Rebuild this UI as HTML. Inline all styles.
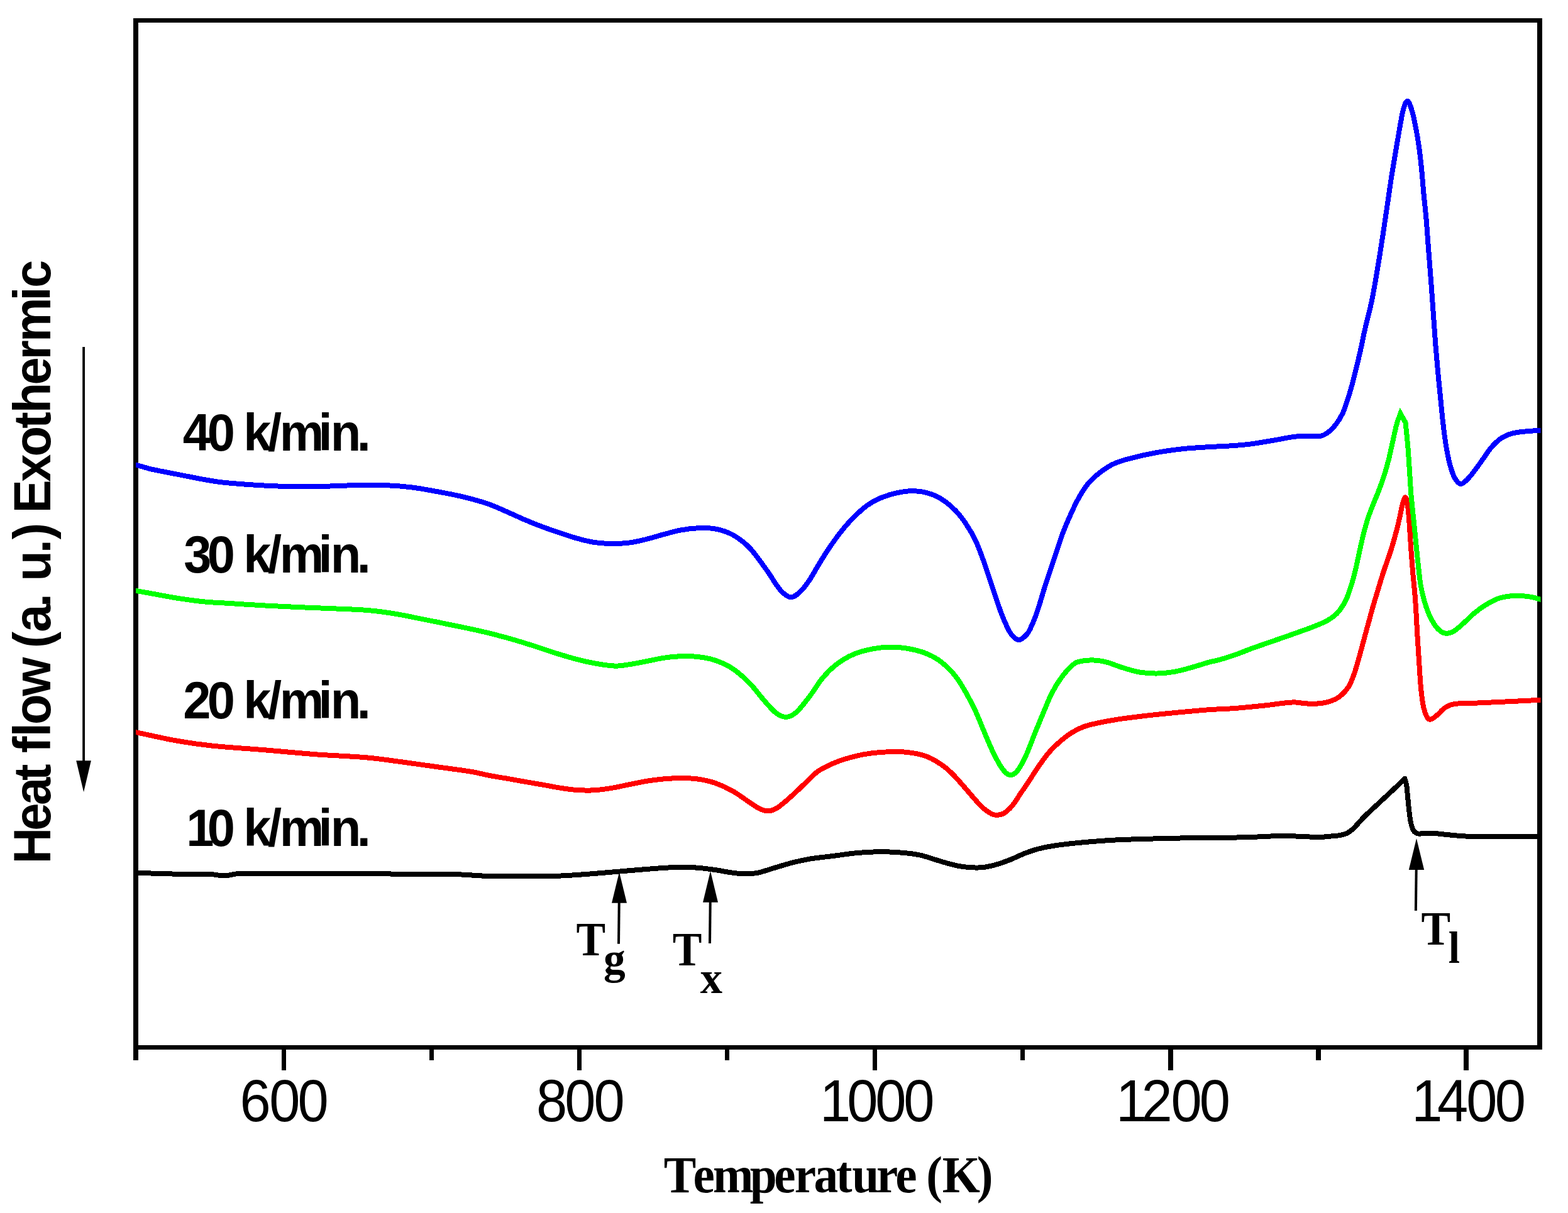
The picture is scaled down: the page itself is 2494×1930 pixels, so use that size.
<!DOCTYPE html>
<html lang="en">
<head>
<meta charset="utf-8">
<title>DSC heat flow curves</title>
<style>
html,body{margin:0;padding:0;background:#fff;}
body{width:2494px;height:1930px;overflow:hidden;}
svg{display:block;}
text{fill:#000;white-space:pre;}
</style>
</head>
<body>
<svg width="2494" height="1930" viewBox="0 0 2494 1930" role="img" aria-label="DSC heat flow curves at 10, 20, 30 and 40 K/min">
<rect width="2494" height="1930" fill="#fff"/>
<g fill="#000" shape-rendering="crispEdges">
<rect x="212" y="29" width="8" height="1658"/>
<rect x="2445" y="29" width="8" height="1641"/>
<rect x="212" y="29" width="2241" height="7"/>
<rect x="212" y="1663" width="2241" height="7"/>
<rect x="448" y="1666" width="7" height="37"/>
<rect x="918" y="1666" width="7" height="37"/>
<rect x="1388" y="1666" width="7" height="37"/>
<rect x="1858" y="1666" width="8" height="37"/>
<rect x="2328" y="1666" width="8" height="37"/>
<rect x="683" y="1666" width="7" height="21"/>
<rect x="1153" y="1666" width="7" height="21"/>
<rect x="1623" y="1666" width="7" height="21"/>
<rect x="2093" y="1666" width="8" height="21"/>
</g>
<clipPath id="plot"><rect x="216" y="36" width="2234.4" height="1627"/></clipPath>
<g fill="none" stroke-linejoin="round" stroke-linecap="butt" stroke-miterlimit="8" shape-rendering="crispEdges" clip-path="url(#plot)">
<path d="M213.0 1388.7C214.2 1388.7 215.3 1388.8 216.5 1388.8C238.5 1389.4 260.4 1390.3 282.4 1390.7C299.9 1391.0 317.5 1390.4 335.0 1391.0C342.3 1391.3 349.7 1393.6 357.0 1393.4C364.7 1393.2 372.3 1390.2 380.0 1390.0C411.6 1389.1 443.1 1390.2 474.7 1390.2C511.3 1390.2 548.0 1389.7 584.6 1389.9C612.1 1390.1 639.5 1391.1 667.0 1391.3C685.3 1391.4 703.7 1390.5 722.0 1391.0C741.3 1391.5 760.7 1393.6 780.0 1394.1C798.3 1394.6 816.7 1394.2 835.0 1394.1C853.3 1394.0 871.6 1394.3 889.9 1393.6C908.2 1392.9 926.5 1391.4 944.8 1390.0C963.1 1388.6 981.5 1386.8 999.8 1385.3C1018.1 1383.8 1036.4 1382.2 1054.7 1381.0C1063.9 1380.4 1073.0 1379.8 1082.2 1379.8C1091.4 1379.8 1100.5 1380.0 1109.7 1380.7C1118.8 1381.4 1128.0 1382.7 1137.1 1384.0C1146.3 1385.3 1155.4 1387.4 1164.6 1388.6C1171.9 1389.6 1179.3 1390.5 1186.6 1390.5C1193.0 1390.5 1199.4 1390.0 1205.8 1388.6C1215.0 1386.6 1224.1 1383.1 1233.3 1380.4C1242.5 1377.7 1251.6 1374.8 1260.8 1372.5C1269.9 1370.2 1279.1 1368.1 1288.2 1366.6C1302.0 1364.4 1315.7 1363.2 1329.5 1361.4C1339.7 1360.1 1349.8 1358.3 1360.0 1357.4C1373.7 1356.2 1387.5 1355.3 1401.2 1355.2C1413.1 1355.2 1425.0 1355.9 1436.9 1356.9C1446.1 1357.7 1455.2 1358.8 1464.4 1360.8C1473.6 1362.8 1482.7 1366.4 1491.9 1369.1C1501.0 1371.8 1510.2 1374.8 1519.3 1376.8C1526.6 1378.4 1534.0 1379.5 1541.3 1380.1C1548.6 1380.6 1556.0 1380.9 1563.3 1380.1C1570.6 1379.3 1578.0 1377.5 1585.3 1375.4C1592.6 1373.3 1600.0 1370.6 1607.3 1367.7C1614.6 1364.8 1621.9 1360.9 1629.2 1358.1C1636.5 1355.3 1643.9 1352.6 1651.2 1350.7C1659.4 1348.5 1667.7 1346.9 1675.9 1345.7C1689.6 1343.6 1703.4 1342.1 1717.1 1340.8C1735.4 1339.1 1753.8 1337.6 1772.1 1336.6C1790.4 1335.6 1808.7 1335.2 1827.0 1334.7C1845.3 1334.2 1863.7 1333.7 1882.0 1333.4C1901.3 1333.1 1920.7 1333.3 1940.0 1333.0C1956.9 1332.8 1973.8 1332.4 1990.7 1331.9C2007.6 1331.4 2024.6 1330.0 2041.5 1329.9C2054.2 1329.8 2066.8 1331.0 2079.5 1331.4C2086.3 1331.6 2093.2 1332.0 2100.0 1331.9C2105.0 1331.8 2110.1 1331.2 2115.1 1330.7C2120.1 1330.2 2125.2 1330.0 2130.2 1329.2C2133.5 1328.7 2136.9 1328.0 2140.2 1326.7C2142.6 1325.8 2144.9 1324.4 2147.3 1322.7C2149.6 1321.0 2152.0 1318.9 2154.3 1316.6C2157.0 1313.9 2159.7 1310.6 2162.4 1307.6C2165.1 1304.7 2167.7 1301.6 2170.4 1299.0C2175.4 1294.1 2180.5 1289.6 2185.5 1284.9C2190.5 1280.2 2195.6 1275.6 2200.6 1270.9C2205.6 1266.2 2210.7 1261.6 2215.7 1256.8C2220.1 1252.7 2224.4 1248.4 2228.8 1244.2C2230.6 1242.4 2232.5 1240.5 2234.3 1238.7C2235.3 1242.5 2236.3 1243.9 2237.3 1250.2C2238.0 1254.4 2238.6 1263.7 2239.3 1270.4C2240.0 1277.1 2240.6 1285.0 2241.3 1290.5C2242.2 1297.7 2243.0 1304.5 2243.9 1308.6C2245.1 1314.2 2246.2 1317.3 2247.4 1319.7C2248.9 1322.8 2250.4 1324.1 2251.9 1325.2C2253.6 1326.4 2255.2 1326.6 2256.9 1326.7C2259.9 1326.8 2263.0 1325.8 2266.0 1325.7C2271.0 1325.5 2276.1 1325.6 2281.1 1325.9C2287.4 1326.3 2293.7 1327.3 2300.0 1327.9C2311.1 1328.9 2322.1 1330.2 2333.2 1330.6C2354.3 1331.3 2375.5 1331.1 2396.6 1331.2C2413.5 1331.3 2430.5 1331.2 2447.4 1331.2C2449.3 1331.2 2451.1 1331.2 2453.0 1331.2" stroke="#000000" stroke-width="8.0"/>
<path d="M213.0 1164.5C214.2 1164.7 215.3 1165.0 216.5 1165.2C238.5 1169.8 260.4 1175.0 282.4 1178.9C300.7 1182.1 319.1 1184.7 337.4 1186.6C364.9 1189.5 392.3 1190.9 419.8 1193.2C447.3 1195.5 474.7 1198.2 502.2 1200.3C529.7 1202.3 557.1 1203.1 584.6 1205.5C602.9 1207.1 621.3 1210.0 639.6 1212.4C657.9 1214.8 676.2 1217.5 694.5 1220.1C712.8 1222.7 731.2 1224.8 749.5 1227.8C759.7 1229.5 769.8 1232.3 780.0 1234.2C789.2 1236.0 798.3 1237.3 807.5 1238.9C816.7 1240.5 825.8 1242.2 835.0 1243.8C844.1 1245.4 853.3 1246.9 862.4 1248.5C871.6 1250.1 880.7 1252.1 889.9 1253.5C899.1 1254.9 908.2 1256.4 917.4 1257.0C926.5 1257.6 935.7 1257.8 944.8 1257.3C954.0 1256.8 963.1 1255.5 972.3 1254.0C981.5 1252.5 990.6 1250.3 999.8 1248.5C1009.0 1246.7 1018.1 1244.5 1027.3 1243.0C1036.4 1241.5 1045.6 1240.3 1054.7 1239.5C1063.9 1238.7 1073.0 1238.1 1082.2 1238.1C1091.4 1238.1 1100.5 1238.2 1109.7 1239.5C1118.8 1240.8 1128.0 1242.7 1137.1 1245.8C1146.3 1248.9 1155.4 1253.0 1164.6 1258.1C1173.8 1263.2 1182.9 1270.5 1192.1 1276.5C1197.6 1280.1 1203.1 1284.5 1208.6 1287.0C1213.2 1289.1 1217.7 1290.5 1222.3 1290.3C1226.9 1290.1 1231.4 1288.6 1236.0 1285.6C1244.3 1280.2 1252.5 1272.4 1260.8 1265.0C1269.9 1256.8 1279.1 1247.4 1288.2 1238.9C1292.8 1234.6 1297.4 1229.4 1302.0 1226.5C1311.2 1220.7 1320.3 1216.6 1329.5 1212.8C1338.6 1209.1 1347.8 1206.3 1356.9 1204.0C1367.1 1201.4 1377.3 1199.4 1387.5 1198.2C1399.4 1196.8 1411.3 1196.1 1423.2 1196.0C1432.4 1196.0 1441.5 1196.5 1450.7 1197.9C1458.9 1199.2 1467.2 1200.9 1475.4 1204.2C1482.7 1207.1 1490.1 1211.6 1497.4 1216.6C1502.9 1220.3 1508.3 1225.0 1513.8 1230.3C1519.3 1235.6 1524.8 1242.0 1530.3 1248.2C1535.8 1254.4 1541.3 1261.2 1546.8 1267.4C1552.3 1273.6 1557.8 1280.3 1563.3 1285.3C1567.9 1289.5 1572.4 1292.5 1577.0 1294.9C1579.8 1296.3 1582.5 1296.9 1585.3 1296.8C1589.0 1296.7 1592.6 1296.4 1596.3 1294.2C1600.9 1291.5 1605.4 1287.5 1610.0 1282.1C1614.6 1276.7 1619.1 1268.6 1623.7 1261.9C1628.3 1255.1 1632.9 1248.4 1637.5 1241.5C1642.1 1234.6 1646.6 1227.0 1651.2 1220.5C1656.7 1212.6 1662.2 1204.6 1667.7 1198.1C1673.2 1191.6 1678.7 1186.4 1684.2 1181.5C1690.6 1175.8 1697.0 1170.6 1703.4 1166.5C1709.8 1162.4 1716.2 1159.2 1722.6 1156.7C1729.9 1153.9 1737.3 1152.3 1744.6 1150.7C1755.6 1148.3 1766.6 1146.3 1777.6 1144.6C1794.1 1142.1 1810.5 1140.2 1827.0 1138.3C1845.3 1136.2 1863.7 1134.5 1882.0 1132.8C1895.7 1131.5 1909.5 1130.2 1923.2 1129.2C1935.5 1128.3 1947.7 1128.1 1960.0 1127.3C1966.0 1126.9 1972.1 1126.4 1978.1 1125.8C1990.8 1124.6 2003.4 1123.4 2016.1 1122.0C2024.6 1121.1 2033.0 1119.6 2041.5 1118.7C2047.4 1118.1 2053.3 1117.3 2059.2 1117.4C2065.1 1117.5 2071.1 1119.1 2077.0 1119.4C2083.8 1119.8 2090.5 1120.0 2097.3 1119.4C2103.2 1118.9 2109.1 1118.1 2115.0 1116.1C2120.3 1114.3 2125.7 1112.2 2131.0 1108.0C2135.6 1104.4 2140.3 1100.0 2144.9 1092.8C2147.9 1088.2 2150.8 1080.7 2153.8 1072.5C2156.3 1065.5 2158.9 1056.0 2161.4 1047.1C2163.9 1038.2 2166.5 1028.5 2169.0 1019.2C2171.5 1009.9 2174.1 1000.5 2176.6 991.3C2179.2 981.9 2181.7 972.3 2184.3 963.4C2186.8 954.6 2189.4 946.5 2191.9 938.1C2194.4 929.7 2197.0 921.0 2199.5 913.0C2201.2 907.6 2202.9 903.0 2204.6 898.0C2207.1 890.6 2209.7 884.0 2212.2 876.0C2214.7 868.0 2217.3 859.2 2219.8 849.8C2221.9 842.0 2224.0 833.6 2226.1 824.4C2227.5 818.3 2228.9 809.0 2230.3 804.1C2232.0 798.0 2233.8 790.9 2235.5 791.4C2236.8 791.8 2238.0 797.7 2239.3 806.7C2240.2 812.9 2241.0 825.5 2241.9 837.1C2242.7 848.3 2243.6 863.4 2244.4 875.2C2245.2 887.0 2246.1 898.0 2246.9 908.1C2247.4 914.6 2248.0 919.3 2248.5 925.0C2249.3 933.2 2250.0 940.2 2250.8 950.0C2251.4 957.2 2251.9 966.5 2252.5 976.1C2253.2 987.9 2253.9 1002.6 2254.6 1014.2C2255.4 1028.0 2256.3 1039.5 2257.1 1052.2C2257.9 1064.9 2258.8 1081.2 2259.6 1090.3C2260.9 1104.1 2262.1 1113.8 2263.4 1120.7C2265.1 1129.9 2266.8 1134.7 2268.5 1138.5C2270.4 1142.8 2272.4 1144.8 2274.3 1144.8C2277.9 1144.8 2281.4 1141.3 2285.0 1138.5C2289.2 1135.2 2293.5 1129.3 2297.7 1126.5C2302.8 1123.2 2307.8 1121.0 2312.9 1120.2C2323.9 1118.4 2334.9 1119.2 2345.9 1118.7C2362.8 1117.9 2379.7 1117.2 2396.6 1116.4C2413.5 1115.6 2430.5 1114.7 2447.4 1113.9C2449.3 1113.8 2451.1 1113.7 2453.0 1113.6" stroke="#ff0000" stroke-width="8.0"/>
<path d="M213.0 939.4C214.2 939.6 215.3 939.8 216.5 940.0C224.7 941.5 233.0 942.9 241.2 944.4C254.9 946.9 268.7 949.6 282.4 951.8C296.1 953.9 309.9 955.9 323.6 957.3C337.3 958.7 351.1 959.1 364.8 960.0C383.1 961.2 401.5 962.4 419.8 963.4C438.1 964.4 456.4 965.3 474.7 966.1C493.0 966.9 511.4 967.5 529.7 968.3C548.0 969.1 566.3 969.5 584.6 971.0C598.3 972.1 612.1 974.0 625.8 976.2C639.5 978.3 653.3 981.4 667.0 984.1C685.3 987.7 703.7 991.4 722.0 995.2C735.7 998.1 749.5 1000.7 763.2 1003.9C778.0 1007.3 792.7 1011.1 807.5 1015.1C816.7 1017.6 825.8 1020.5 835.0 1023.3C844.1 1026.1 853.3 1029.2 862.4 1032.1C871.6 1035.1 880.7 1038.3 889.9 1041.1C899.1 1043.9 908.2 1046.6 917.4 1049.0C926.5 1051.3 935.7 1053.6 944.8 1055.2C955.8 1057.2 966.8 1059.2 977.8 1059.6C985.1 1059.9 992.5 1058.5 999.8 1057.4C1009.0 1056.1 1018.1 1054.2 1027.3 1052.4C1036.4 1050.7 1045.6 1048.3 1054.7 1046.9C1063.9 1045.5 1073.0 1044.5 1082.2 1044.2C1091.4 1043.9 1100.5 1043.9 1109.7 1045.0C1118.8 1046.0 1128.0 1047.4 1137.1 1050.5C1146.3 1053.6 1155.4 1057.4 1164.6 1063.4C1173.8 1069.5 1182.9 1077.6 1192.1 1086.8C1199.4 1094.1 1206.8 1104.6 1214.1 1112.9C1220.5 1120.2 1226.9 1128.5 1233.3 1133.5C1238.8 1137.8 1244.3 1140.9 1249.8 1140.9C1255.3 1140.9 1260.8 1138.3 1266.3 1133.5C1273.6 1127.1 1280.9 1116.9 1288.2 1107.4C1294.6 1099.0 1301.1 1087.6 1307.5 1079.9C1314.8 1071.1 1322.2 1063.6 1329.5 1057.9C1338.6 1050.8 1347.8 1045.4 1356.9 1041.4C1367.1 1036.9 1377.3 1034.6 1387.5 1032.5C1396.6 1030.7 1405.8 1029.8 1414.9 1029.7C1424.1 1029.5 1433.2 1030.1 1442.4 1031.6C1451.6 1033.1 1460.7 1035.2 1469.9 1038.5C1477.2 1041.2 1484.6 1044.6 1491.9 1049.5C1498.3 1053.8 1504.7 1059.5 1511.1 1066.0C1515.7 1070.6 1520.2 1076.4 1524.8 1083.0C1529.4 1089.7 1534.0 1097.6 1538.6 1106.0C1543.2 1114.3 1547.7 1123.0 1552.3 1133.0C1556.9 1143.0 1561.4 1155.1 1566.0 1165.8C1570.6 1176.6 1575.2 1188.0 1579.8 1197.4C1584.4 1206.7 1588.9 1215.9 1593.5 1222.1C1597.6 1227.8 1601.8 1232.4 1605.9 1233.1C1610.0 1233.8 1614.1 1231.4 1618.2 1226.4C1622.8 1220.9 1627.4 1211.6 1632.0 1201.8C1636.6 1192.0 1641.1 1178.9 1645.7 1167.6C1650.3 1156.3 1654.9 1144.9 1659.5 1134.0C1664.1 1123.2 1668.6 1111.1 1673.2 1102.4C1678.7 1091.8 1684.2 1083.4 1689.7 1076.0C1695.2 1068.6 1700.7 1063.1 1706.2 1058.0C1708.9 1055.5 1711.7 1053.8 1714.4 1053.1C1721.7 1051.2 1729.1 1050.3 1736.4 1050.3C1743.7 1050.3 1751.1 1051.3 1758.4 1053.1C1767.5 1055.3 1776.7 1059.7 1785.8 1062.4C1795.0 1065.2 1804.1 1068.1 1813.3 1069.6C1822.5 1071.1 1831.6 1071.7 1840.8 1071.5C1849.9 1071.4 1859.1 1070.3 1868.2 1068.7C1877.4 1067.1 1886.5 1064.4 1895.7 1061.9C1904.9 1059.4 1914.0 1056.1 1923.2 1053.6C1928.8 1052.1 1934.4 1051.3 1940.0 1049.7C1948.5 1047.3 1956.9 1044.6 1965.4 1041.6C1973.8 1038.6 1982.3 1035.0 1990.7 1031.9C1999.2 1028.8 2007.6 1026.0 2016.1 1023.0C2024.6 1020.0 2033.0 1017.2 2041.5 1014.2C2049.9 1011.3 2058.4 1008.3 2066.8 1005.3C2075.3 1002.2 2083.7 999.4 2092.2 995.9C2099.1 993.0 2106.1 990.5 2113.0 986.3C2118.2 983.1 2123.5 979.7 2128.7 973.6C2132.9 968.7 2137.2 962.2 2141.4 953.3C2144.4 947.0 2147.3 937.6 2150.3 928.0C2152.4 921.2 2154.5 912.8 2156.6 904.0C2158.7 895.2 2160.8 884.5 2162.9 875.2C2164.8 866.5 2166.8 857.4 2168.7 849.8C2171.1 840.5 2173.5 831.8 2175.9 824.4C2178.4 816.6 2181.0 810.6 2183.5 804.1C2186.9 795.4 2190.3 787.8 2193.7 778.8C2196.7 770.9 2199.6 762.8 2202.6 753.4C2204.7 746.7 2206.8 739.1 2208.9 730.6C2211.0 722.1 2213.1 711.8 2215.2 702.6C2217.3 693.2 2219.5 682.4 2221.6 674.7C2223.6 667.6 2225.5 663.6 2227.5 658.0C2230.2 662.7 2232.8 667.5 2235.5 672.2C2236.8 684.9 2238.0 695.2 2239.3 710.3C2240.2 720.6 2241.0 735.4 2241.9 748.3C2242.7 760.7 2243.6 776.3 2244.4 786.4C2245.7 801.7 2246.9 811.9 2248.2 824.4C2249.1 833.0 2249.9 841.2 2250.8 849.8C2252.1 862.3 2253.3 875.5 2254.6 887.8C2255.4 895.6 2256.2 903.2 2257.0 910.0C2257.9 917.4 2258.7 925.5 2259.6 930.4C2261.3 940.0 2263.0 947.2 2264.7 953.3C2267.2 962.4 2269.8 970.2 2272.3 976.1C2275.7 984.1 2279.1 990.2 2282.5 995.1C2285.9 999.9 2289.2 1003.0 2292.6 1005.3C2295.6 1007.3 2298.5 1008.0 2301.5 1007.8C2305.3 1007.6 2309.1 1006.4 2312.9 1004.0C2318.0 1000.9 2323.0 995.8 2328.1 991.3C2334.0 986.0 2340.0 979.7 2345.9 974.8C2351.8 970.0 2357.7 965.7 2363.6 962.2C2370.4 958.1 2377.1 954.3 2383.9 952.0C2390.7 949.7 2397.4 948.9 2404.2 948.2C2410.1 947.6 2416.1 947.8 2422.0 948.2C2427.1 948.5 2432.1 949.2 2437.2 950.2C2441.0 950.9 2444.8 952.3 2448.6 953.3C2450.1 953.7 2451.5 954.1 2453.0 954.5" stroke="#00ff00" stroke-width="8.0" stroke-linejoin="miter"/>
<path d="M213.0 738.7C214.2 739.0 215.3 739.4 216.5 739.7C224.7 742.0 233.0 744.7 241.2 746.6C254.9 749.7 268.7 752.1 282.4 754.8C296.1 757.5 309.9 760.3 323.6 762.8C332.7 764.5 341.9 766.1 351.0 767.2C364.8 768.8 378.5 769.8 392.3 770.8C406.0 771.8 419.8 772.6 433.5 773.2C447.2 773.8 461.0 774.2 474.7 774.3C488.5 774.4 502.2 774.1 516.0 773.8C529.7 773.5 543.3 772.6 557.0 772.4C575.3 772.1 593.7 771.6 612.0 772.1C625.8 772.5 639.5 773.5 653.3 775.2C667.0 776.8 680.8 779.5 694.5 782.0C708.2 784.5 722.0 787.0 735.7 790.3C749.5 793.6 763.2 797.3 777.0 802.0C787.2 805.5 797.3 810.4 807.5 814.8C816.7 818.8 825.8 823.2 835.0 827.1C844.1 831.0 853.3 834.7 862.4 838.1C871.6 841.5 880.7 844.6 889.9 847.7C899.1 850.8 908.2 854.0 917.4 856.5C926.5 859.0 935.7 861.5 944.8 862.9C954.0 864.3 963.1 864.9 972.3 865.0C981.5 865.1 990.6 864.8 999.8 863.7C1009.0 862.6 1018.1 860.4 1027.3 858.2C1036.4 856.0 1045.6 852.9 1054.7 850.5C1063.9 848.1 1073.0 845.3 1082.2 843.6C1091.4 841.9 1100.5 840.7 1109.7 840.3C1118.8 839.9 1128.0 839.7 1137.1 841.4C1146.3 843.1 1155.4 845.5 1164.6 850.5C1173.8 855.5 1182.9 862.1 1192.1 871.5C1201.3 881.0 1210.4 894.7 1219.6 907.3C1226.9 917.3 1234.2 931.0 1241.5 939.2C1247.0 945.3 1252.5 950.1 1258.0 950.2C1263.5 950.3 1269.0 945.0 1274.5 939.8C1279.1 935.5 1283.6 928.7 1288.2 921.9C1292.8 915.0 1297.4 906.2 1302.0 898.6C1306.6 891.1 1311.1 883.7 1315.7 876.7C1320.3 869.7 1324.9 863.1 1329.5 856.8C1334.1 850.6 1338.6 844.7 1343.2 839.2C1347.8 833.8 1352.3 828.5 1356.9 824.0C1364.3 816.8 1371.8 809.6 1379.2 804.2C1386.5 799.0 1393.9 795.1 1401.2 792.1C1410.4 788.3 1419.5 785.7 1428.7 783.8C1436.9 782.1 1445.2 781.0 1453.4 781.1C1460.7 781.2 1468.1 782.2 1475.4 784.4C1482.7 786.5 1490.1 789.4 1497.4 794.0C1504.7 798.6 1512.0 804.6 1519.3 811.9C1524.8 817.4 1530.3 824.3 1535.8 832.5C1541.3 840.7 1546.8 849.6 1552.3 861.3C1556.9 871.1 1561.4 884.2 1566.0 897.0C1570.6 909.9 1575.2 924.6 1579.8 938.2C1584.4 951.7 1588.9 966.4 1593.5 978.1C1597.7 988.8 1601.8 997.8 1606.0 1005.5C1608.3 1009.8 1610.7 1012.1 1613.0 1014.2C1615.5 1016.4 1617.9 1018.2 1620.4 1018.2C1622.9 1018.2 1625.5 1016.3 1628.0 1014.2C1630.7 1012.0 1633.3 1010.4 1636.0 1005.5C1640.2 997.9 1644.3 988.3 1648.5 976.7C1653.1 964.0 1657.6 946.9 1662.2 932.7C1666.8 918.5 1671.3 905.2 1675.9 891.5C1680.5 877.7 1685.1 862.7 1689.7 850.3C1694.3 838.0 1698.8 827.5 1703.4 817.4C1708.0 807.3 1712.5 797.9 1717.1 789.9C1721.7 781.9 1726.3 774.7 1730.9 769.3C1737.3 761.8 1743.7 756.3 1750.1 751.4C1757.4 745.8 1764.8 741.0 1772.1 737.7C1781.3 733.5 1790.4 731.3 1799.6 728.9C1813.3 725.3 1827.1 722.3 1840.8 719.9C1854.5 717.4 1868.3 715.6 1882.0 714.1C1895.7 712.7 1909.5 712.0 1923.2 711.1C1935.5 710.4 1947.7 710.1 1960.0 709.2C1970.2 708.5 1980.5 707.6 1990.7 706.3C2003.4 704.6 2016.1 702.3 2028.8 700.1C2037.3 698.7 2045.7 696.7 2054.2 695.5C2060.1 694.6 2066.0 694.0 2071.9 693.8C2077.0 693.6 2082.0 694.6 2087.1 694.5C2092.2 694.4 2097.3 694.9 2102.4 693.3C2106.6 692.0 2110.8 689.2 2115.0 685.8C2118.4 683.0 2121.8 679.3 2125.2 674.7C2128.6 670.1 2131.9 665.3 2135.3 658.2C2137.8 652.9 2140.4 645.3 2142.9 637.6C2145.5 629.8 2148.0 621.3 2150.6 611.9C2153.1 602.7 2155.7 592.2 2158.2 581.8C2160.3 573.2 2162.4 564.2 2164.5 554.8C2166.6 545.3 2168.7 534.3 2170.8 525.1C2174.2 510.3 2177.6 498.3 2181.0 482.8C2183.1 473.2 2185.2 461.6 2187.3 449.8C2189.4 437.9 2191.6 424.9 2193.7 411.7C2195.8 398.7 2197.9 384.9 2200.0 371.1C2202.1 357.0 2204.3 342.5 2206.4 328.0C2208.5 313.7 2210.6 298.4 2212.7 284.9C2214.8 271.4 2216.9 259.4 2219.0 246.8C2221.1 234.0 2223.3 220.7 2225.4 208.8C2227.5 197.1 2229.6 183.5 2231.7 175.8C2234.0 167.4 2236.3 160.6 2238.6 160.6C2241.0 160.6 2243.3 168.2 2245.7 175.8C2247.8 182.6 2249.9 192.9 2252.0 203.7C2253.7 212.4 2255.4 222.1 2257.1 234.2C2258.4 243.2 2259.6 254.4 2260.9 267.1C2262.2 279.8 2263.4 296.8 2264.7 310.3C2266.0 323.8 2267.2 333.5 2268.5 348.3C2269.8 363.1 2271.0 382.5 2272.3 399.0C2273.6 415.5 2274.8 430.3 2276.1 447.2C2277.4 464.1 2278.6 482.9 2279.9 500.5C2281.2 518.1 2282.4 537.1 2283.7 553.0C2285.0 568.9 2286.2 582.6 2287.5 596.1C2288.8 609.6 2290.0 621.5 2291.3 634.2C2292.6 646.9 2293.8 661.4 2295.1 672.2C2296.8 686.7 2298.5 700.2 2300.2 710.3C2302.3 723.0 2304.5 733.0 2306.6 740.7C2309.1 749.9 2311.7 756.5 2314.2 761.0C2317.1 766.2 2320.1 769.5 2323.0 769.9C2326.4 770.3 2329.8 766.7 2333.2 763.5C2337.4 759.5 2341.7 753.8 2345.9 748.3C2350.1 742.8 2354.4 736.5 2358.6 730.6C2362.8 724.7 2367.0 717.9 2371.2 712.8C2375.4 707.7 2379.7 703.5 2383.9 700.1C2388.1 696.7 2392.4 694.3 2396.6 692.5C2401.7 690.3 2406.7 689.2 2411.8 688.2C2417.7 687.1 2423.7 686.8 2429.6 686.2C2435.5 685.6 2441.5 685.3 2447.4 684.9C2449.3 684.8 2451.1 684.6 2453.0 684.5" stroke="#0000ff" stroke-width="8.0"/>
</g>
<path d="M973.0 1436.7L985.0 1387.5L997.0 1436.7Z" fill="#000"/><line x1="985.0" y1="1412.1" x2="984.0" y2="1501.7" stroke="#000" stroke-width="4.0"/>
<path d="M1118.0 1435.7L1130.0 1386.0L1142.0 1435.7Z" fill="#000"/><line x1="1130.0" y1="1410.8" x2="1129.0" y2="1500.9" stroke="#000" stroke-width="4.0"/>
<path d="M2240.8 1383.9L2253.0 1334.0L2265.2 1383.9Z" fill="#000"/><line x1="2253.0" y1="1359.0" x2="2251.9" y2="1448.9" stroke="#000" stroke-width="4.0"/>
<path d="M121.2 1210.3L133.1 1260.2L144.9 1210.3Z" fill="#000"/><line x1="133.1" y1="1235.2" x2="133.1" y2="552.1" stroke="#000" stroke-width="3.8"/>
<text transform="translate(381.51 1784.00) scale(0.9360 1)" x="0.00 50.04 98.22" y="0" font-family="'Liberation Sans', Arial, Helvetica, sans-serif" font-size="94.5" font-weight="normal">600</text>
<text transform="translate(853.06 1784.00) scale(0.9360 1)" x="0.00 48.39 97.64" y="0" font-family="'Liberation Sans', Arial, Helvetica, sans-serif" font-size="94.5" font-weight="normal">800</text>
<text transform="translate(1303.93 1784.00) scale(0.9360 1)" x="0.00 46.28 94.46 142.54" y="0" font-family="'Liberation Sans', Arial, Helvetica, sans-serif" font-size="94.5" font-weight="normal">1000</text>
<text transform="translate(1775.03 1784.00) scale(0.9360 1)" x="0.00 43.19 93.50 141.79" y="0" font-family="'Liberation Sans', Arial, Helvetica, sans-serif" font-size="94.5" font-weight="normal">1200</text>
<text transform="translate(2245.13 1784.00) scale(0.9360 1)" x="0.00 43.64 93.18 141.58" y="0" font-family="'Liberation Sans', Arial, Helvetica, sans-serif" font-size="94.5" font-weight="normal">1400</text>
<text transform="translate(1055.69 1896.90) scale(0.9400 1)" x="0.00 49.75 83.44 145.88 186.67 221.42 254.17 291.45 318.66 360.03 392.09 425.47 444.27 471.37 529.81" y="0" font-family="'Liberation Serif', 'Times New Roman', Times, serif" font-size="82.2" font-weight="bold">Temperature (K)</text>
<text transform="translate(290.80 716.90) scale(0.9450 1)" x="0.00 41.34 81.91 102.18 143.10 162.93 228.21 248.75 293.03" y="0" font-family="'Liberation Sans', Arial, Helvetica, sans-serif" font-size="84.0" font-weight="bold">40 k/min.</text>
<text transform="translate(292.18 911.20) scale(0.9450 1)" x="0.00 39.88 80.45 100.72 141.64 161.47 226.75 247.29 291.57" y="0" font-family="'Liberation Sans', Arial, Helvetica, sans-serif" font-size="84.0" font-weight="bold">30 k/min.</text>
<text transform="translate(291.25 1143.20) scale(0.9450 1)" x="0.00 40.86 81.43 101.70 142.62 162.45 227.73 248.27 292.55" y="0" font-family="'Liberation Sans', Arial, Helvetica, sans-serif" font-size="84.0" font-weight="bold">20 k/min.</text>
<text transform="translate(296.35 1346.00) scale(0.9450 1)" x="0.00 35.46 76.03 96.30 137.22 157.06 222.34 242.88 287.16" y="0" font-family="'Liberation Sans', Arial, Helvetica, sans-serif" font-size="84.0" font-weight="bold">10 k/min.</text>
<text transform="translate(80.00 1374.21) rotate(-90) scale(0.9450 1)" x="0.00 55.57 98.61 140.04 165.38 186.51 213.72 233.98 282.16 341.74 363.02 389.82 431.66 453.60 475.54 522.78 545.96 570.23 590.48 642.82 685.51 732.85 758.59 806.15 848.76 878.49 947.90 969.75" y="0" font-family="'Liberation Sans', Arial, Helvetica, sans-serif" font-size="84.0" font-weight="bold">Heat flow (a. u.) Exothermic</text>
<text transform="translate(916.61 1520.00) scale(0.9250 1)" x="0.00" y="0" font-family="'Liberation Serif', 'Times New Roman', Times, serif" font-size="75.7" font-weight="bold">T</text>
<text transform="translate(960.07 1548.80) scale(1.0000 1)" x="0.00" y="0" font-family="'Liberation Serif', 'Times New Roman', Times, serif" font-size="69.5" font-weight="bold">g</text>
<text transform="translate(1069.71 1536.00) scale(0.9250 1)" x="0.00" y="0" font-family="'Liberation Serif', 'Times New Roman', Times, serif" font-size="75.7" font-weight="bold">T</text>
<text transform="translate(1113.72 1580.30) scale(0.9800 1)" x="0.00" y="0" font-family="'Liberation Serif', 'Times New Roman', Times, serif" font-size="72.0" font-weight="bold">x</text>
<text transform="translate(2260.61 1502.90) scale(0.9250 1)" x="0.00" y="0" font-family="'Liberation Serif', 'Times New Roman', Times, serif" font-size="75.7" font-weight="bold">T</text>
<text transform="translate(2303.71 1531.90) scale(0.9200 1)" x="0.00" y="0" font-family="'Liberation Serif', 'Times New Roman', Times, serif" font-size="71.6" font-weight="bold">l</text>
</svg>
</body>
</html>
